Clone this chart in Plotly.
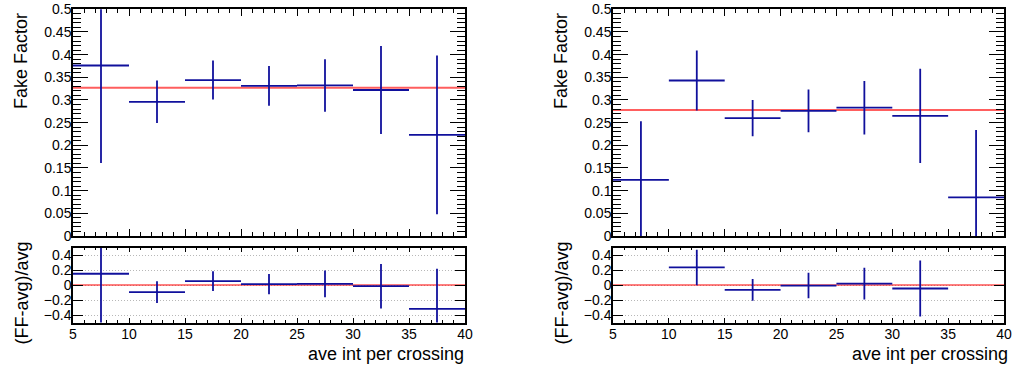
import plotly.graph_objects as go

# Bin layout: average interactions per crossing
bin_edges = [5, 10, 15, 20, 25, 30, 35, 40]
bin_centers = [7.5, 12.5, 17.5, 22.5, 27.5, 32.5, 37.5]
bin_halfwidth = [2.5] * 7

# Left panel: fake factor per bin, its uncertainty and the fitted average
left_ff = [0.376, 0.296, 0.344, 0.331, 0.332, 0.322, 0.223]
left_err = [0.215, 0.047, 0.043, 0.044, 0.058, 0.097, 0.175]
left_avg = 0.327

# Right panel
right_ff = [0.124, 0.343, 0.260, 0.276, 0.283, 0.265, 0.085]
right_err = [0.129, 0.066, 0.040, 0.047, 0.059, 0.104, 0.149]
right_avg = 0.278

ff_ticks = [0, 0.05, 0.1, 0.15, 0.2, 0.25, 0.3, 0.35, 0.4, 0.45, 0.5]
ff_ticktext = ["0", "0.05", "0.1", "0.15", "0.2", "0.25", "0.3", "0.35", "0.4", "0.45", "0.5"]
ratio_ticks = [-0.4, -0.2, 0, 0.2, 0.4]
ratio_ticktext = ["\u22120.4", "\u22120.2", "0", "0.2", "0.4"]

W, H = 1016, 366
BLUE = "#10109c"
FONT = "Liberation Sans, Arial, Helvetica, sans-serif"


def px_x(p):
    return p / W


def px_y(p):
    return 1 - p / H


def ratio_points(ff, err, avg):
    # (FF-avg)/avg; points falling outside the ratio window are not drawn
    rat, rerr = [], []
    for v, e in zip(ff, err):
        r = (v - avg) / avg
        if -0.5 <= r <= 0.5:
            rat.append(r)
            rerr.append(e / avg)
        else:
            rat.append(None)
            rerr.append(None)
    return rat, rerr


def cross_trace(y, yerr, xa, ya):
    return go.Scatter(
        x=bin_centers, y=y, mode="markers",
        marker=dict(size=1, color=BLUE),
        error_x=dict(type="data", array=bin_halfwidth, width=0, thickness=1.8, color=BLUE),
        error_y=dict(type="data", array=yerr, width=0, thickness=1.8, color=BLUE),
        xaxis=xa, yaxis=ya, showlegend=False, hoverinfo="skip", cliponaxis=True,
    )


def hline(val, xa, ya, color, width):
    return go.Scatter(
        x=[bin_edges[0], bin_edges[-1]], y=[val, val], mode="lines",
        line=dict(color=color, width=width),
        xaxis=xa, yaxis=ya, showlegend=False, hoverinfo="skip",
    )


fig = go.Figure()

panels = [
    (left_ff, left_err, left_avg, "x", "y", "x2", "y2"),
    (right_ff, right_err, right_avg, "x3", "y3", "x4", "y4"),
]
for ff, err, avg, xt, yt, xr, yr in panels:
    fig.add_trace(hline(avg, xt, yt, "rgba(255,40,40,0.75)", 2))
    fig.add_trace(cross_trace(ff, err, xt, yt))
    rat, rerr = ratio_points(ff, err, avg)
    fig.add_trace(hline(0, xr, yr, "#ff0000", 1.2))
    fig.add_trace(cross_trace(rat, rerr, xr, yr))


def base():
    return dict(
        showline=True, linecolor="black", linewidth=1.5, mirror="allticks",
        ticks="inside", tickcolor="#000000", tickwidth=1,
        zeroline=False, showgrid=False,
        tickfont=dict(family=FONT, size=14, color="black"),
    )


def xaxis_cfg(domain, anchor, labels):
    return dict(
        base(), domain=domain, anchor=anchor, range=[5, 40],
        tickmode="linear", tick0=5, dtick=5, ticklen=7 if not labels else 5,
        showticklabels=labels, ticklabelstandoff=-2,
        minor=dict(dtick=1, tick0=5, ticklen=4 if not labels else 3,
                   ticks="inside", tickcolor="#000000", tickwidth=1),
    )


def ff_yaxis_cfg(domain, anchor):
    return dict(
        base(), domain=domain, anchor=anchor, range=[0, 0.5],
        tickmode="array", tickvals=ff_ticks, ticktext=ff_ticktext, ticklen=15,
        ticklabelstandoff=-3,
        minor=dict(dtick=0.01, tick0=0, ticklen=8, ticks="inside", tickcolor="#000000", tickwidth=1),
    )


def ratio_yaxis_cfg(domain, anchor):
    cfg = dict(
        base(), domain=domain, anchor=anchor, range=[-0.5, 0.5],
        tickmode="array", tickvals=ratio_ticks, ticktext=ratio_ticktext, ticklen=10,
        ticklabelstandoff=-3,
    )
    cfg.update(showgrid=True, gridcolor="#b8b8b8", griddash="1px,2px", gridwidth=1)
    return cfg


top_dom = [px_y(236), px_y(9.3)]
bot_dom = [px_y(322.5), px_y(247.5)]
left_dom = [px_x(73), px_x(465)]
right_dom = [px_x(613), px_x(1004)]

fig.update_layout(
    template="none",
    width=W, height=H, autosize=False,
    margin=dict(l=0, r=0, t=0, b=0),
    paper_bgcolor="white", plot_bgcolor="white",
    xaxis=xaxis_cfg(left_dom, "y", False),
    yaxis=ff_yaxis_cfg(top_dom, "x"),
    xaxis2=xaxis_cfg(left_dom, "y2", True),
    yaxis2=ratio_yaxis_cfg(bot_dom, "x2"),
    xaxis3=xaxis_cfg(right_dom, "y3", False),
    yaxis3=ff_yaxis_cfg(top_dom, "x3"),
    xaxis4=xaxis_cfg(right_dom, "y4", True),
    yaxis4=ratio_yaxis_cfg(bot_dom, "x4"),
)

title_font = dict(family=FONT, size=18, color="black")
annotations = []
for offset in (0, 540):
    annotations.append(dict(
        text="Fake Factor", textangle=-90, showarrow=False,
        xref="paper", yref="paper", x=px_x(21 + offset), y=px_y(11),
        xanchor="center", yanchor="top", font=title_font,
    ))
    annotations.append(dict(
        text="(FF-avg)/avg", textangle=-90, showarrow=False,
        xref="paper", yref="paper", x=px_x(21 + offset), y=px_y(240),
        xanchor="center", yanchor="top", font=title_font,
    ))
annotations.append(dict(
    text="ave int per crossing", showarrow=False,
    xref="paper", yref="paper", x=px_x(466), y=px_y(354),
    xanchor="right", yanchor="middle", font=title_font,
))
annotations.append(dict(
    text="ave int per crossing", showarrow=False,
    xref="paper", yref="paper", x=px_x(1010), y=px_y(354),
    xanchor="right", yanchor="middle", font=title_font,
))
fig.update_layout(annotations=annotations)

fig.write_html("out.html")
